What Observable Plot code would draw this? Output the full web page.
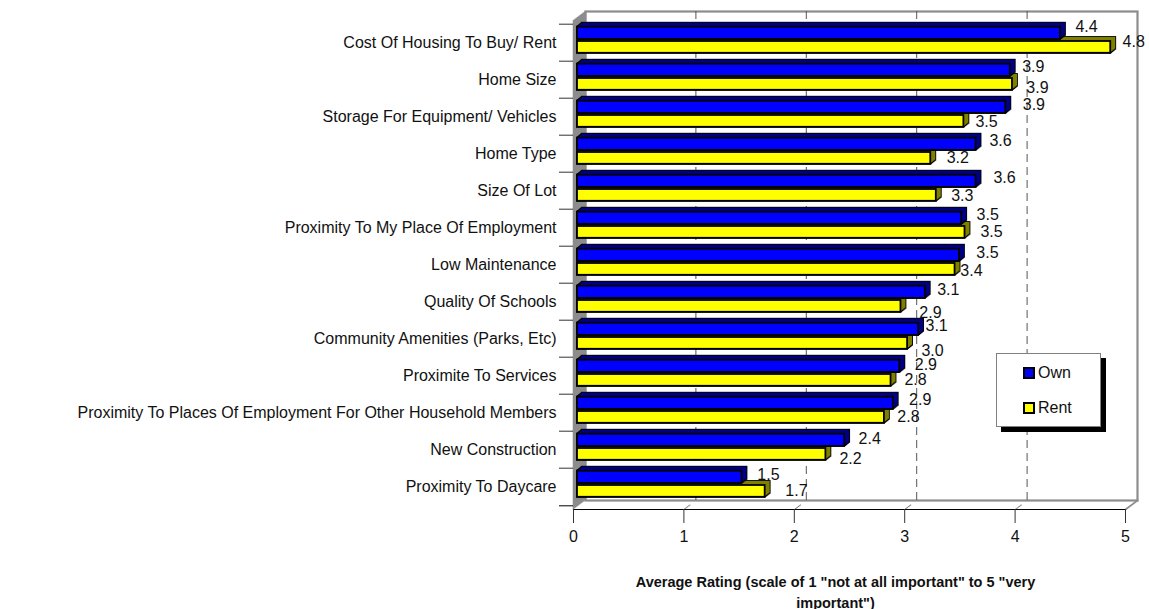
<!DOCTYPE html>
<html><head><meta charset="utf-8">
<script src="https://cdn.jsdelivr.net/npm/d3@7"></script>
<script src="https://cdn.jsdelivr.net/npm/@observablehq/plot@0.6"></script>
<style>
html,body{margin:0;padding:0;background:#fff;}
#wrap{position:relative;width:1149px;height:609px;font-family:"Liberation Sans",Arial,sans-serif;}
#legend{position:absolute;left:996px;top:353px;width:105px;height:74px;background:#fff;border:1px solid #808080;box-shadow:5px 5px 0 #000;box-sizing:border-box;font-size:16px;color:#111;}
#legend .row{position:absolute;left:26px;display:flex;align-items:center;height:18px;}
#legend i{display:block;width:8px;height:8px;border:2px solid #000;margin-right:3px;}
</style></head><body><div id="wrap"><div id="chart"></div><div id="legend"></div></div>
<script>
const categories = ["Cost Of Housing To Buy/ Rent","Home Size","Storage For Equipment/ Vehicles","Home Type","Size Of Lot","Proximity To My Place Of Employment","Low Maintenance","Quality Of Schools","Community Amenities (Parks, Etc)","Proximite To Services","Proximity To Places Of Employment For Other Household Members","New Construction","Proximity To Daycare"];
const ownValues  = [4.375,3.92,3.88,3.61,3.61,3.48,3.46,3.15,3.09,2.92,2.86,2.42,1.49];
const rentValues = [4.83,3.94,3.5,3.2,3.25,3.51,3.42,2.93,2.99,2.84,2.78,2.25,1.70];
const ownLabels  = ["4.4","3.9","3.9","3.6","3.6","3.5","3.5","3.1","3.1","2.9","2.9","2.4","1.5"];
const rentLabels = ["4.8","3.9","3.5","3.2","3.3","3.5","3.4","2.9","3.0","2.8","2.8","2.2","1.7"];
const xTicks = [0,1,2,3,4,5];
const gridTicks = [1,2,3,4];
const xTitle = 'Average Rating (scale of 1 "not at all important" to 5 "very\nimportant")';

// layout nudges for the hand-placed data labels
const ownDx=[30,27,32,28.5,32.5,30,32,27,22,30,31,29,30.5], ownDy=[-16,-13,-12,-13,-13,-13,-12,-12,-13,-11,-13,-11,-12];
const rentDx=[27,29,26.6,31,30,30.5,20.4,33.5,29,28.5,28,28.6,35.3], rentDy=[-1,7.6,5,3.4,4.8,4.2,5.6,11,11.4,3.8,4.2,8.6,4];

const own = categories.map((c,i)=>({c,v:ownValues[i]}));
const rent = categories.map((c,i)=>({c,v:rentValues[i]}));
const range = n => d3.range(n);

const B = 37.615;
const barOpts = {
  own:{insetTop:2.7,insetBottom:B-15.5},
  rent:{insetTop:17,insetBottom:B-29.4}
};
const DX=5, DY=4;
function extrude(data,inset,dark){
  const m=[];
  for(let k=0;k<=DX;k++) m.push(Plot.barX(data,{x:"v",y:"c",...inset,dx:4+k,dy:-k*DY/DX,fill:"#000",stroke:"#000",strokeWidth:1.8}));
  for(let k=1;k<=DX;k++) m.push(Plot.barX(data,{x:"v",y:"c",...inset,dx:4+k,dy:-k*DY/DX,fill:dark}));
  return m;
}
function front(data,inset,fill){
  return Plot.barX(data,{x:"v",y:"c",...inset,dx:4,fill,stroke:"#000",strokeWidth:1.8});
}
function labels(vals,txt,dxs,dys){
  return categories.map((c,i)=>Plot.text([{c,v:vals[i],t:txt[i]}],{x:"v",y:"c",text:"t",dx:dxs[i],dy:dys[i],fontSize:16,fill:"#111",textAnchor:"middle"}));
}

const chart = Plot.plot({
  width:1149,height:609,marginLeft:573,marginRight:24,marginTop:20,marginBottom:100,
  style:{fontFamily:'"Liberation Sans",Arial,sans-serif',background:"#fff",color:"#111"},
  x:{domain:[0,5],label:null},
  y:{type:"band",domain:categories,padding:0,label:null},
  marks:[
    Plot.frame({dx:12,dy:-9,fill:"#fff",stroke:"#8c8c8c",strokeWidth:2.2}),
    Plot.ruleX(gridTicks,{dx:12,dy:-9,stroke:"#555",strokeDasharray:"8,5"}),
    ...range(13).map(k=>Plot.ruleX([0],{dx:k,dy:-k*0.75,stroke:"#8c8c8c",strokeWidth:1.5})),
    ...range(13).map(k=>Plot.dot([5],{x:d=>d,frameAnchor:"bottom",dx:k,dy:-k*0.75,r:0.9,fill:"#8c8c8c"})),
    ...range(7).map(k=>Plot.dot(gridTicks,{x:d=>d,frameAnchor:"bottom",dx:k,dy:-k*0.75,r:0.5,fill:"#333"})),
    ...extrude(rent,barOpts.rent,"#808000"),
    ...extrude(own,barOpts.own,"#000080"),
    front(own,barOpts.own,"#0000ff"),
    front(rent,barOpts.rent,"#ffff00"),
    Plot.axisY({anchor:"left",tickSize:0,tickPadding:17,fontSize:16,label:null}),
    Plot.axisY({anchor:"left",tickSize:14,tickFormat:null,dy:-B/2,label:null,stroke:"#333"}),
    Plot.axisY({anchor:"left",ticks:[categories[categories.length-1]],tickSize:14,tickFormat:null,dy:B/2,label:null,stroke:"#000"}),
    Plot.frame({anchor:"bottom",stroke:"#000",strokeWidth:1.2}),
    Plot.axisX({ticks:xTicks,tickSize:14,tickPadding:7,fontSize:16,label:null,tickFormat:d3.format("d"),stroke:"#333"}),
    ...labels(ownValues,ownLabels,ownDx,ownDy),
    ...labels(rentValues,rentLabels,rentDx,rentDy),
    Plot.text([xTitle],{frameAnchor:"bottom",dx:-14,dy:81,lineAnchor:"middle",lineHeight:1.5,fontSize:14.5,fontWeight:"bold",fill:"#111",textAnchor:"middle"})
  ]
});
document.getElementById("chart").append(chart);
const legendEntries=[["Own","#0000ff",10],["Rent","#ffff00",45]];
const L=document.getElementById("legend");
legendEntries.forEach(([t,col,top])=>{
  const r=document.createElement("div");r.className="row";r.style.top=top+"px";
  const s=document.createElement("i");s.style.background=col;r.append(s,document.createTextNode(t));L.append(r);
});
</script></body></html>
